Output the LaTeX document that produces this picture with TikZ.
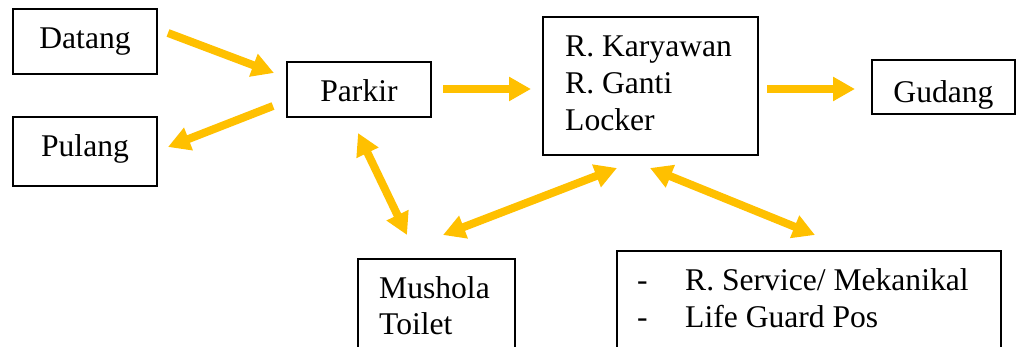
\documentclass[tikz,border=0pt]{standalone}
\usepackage{fontspec}
\setmainfont{Liberation Serif}
\usetikzlibrary{arrows.meta}
\definecolor{arrowgold}{HTML}{FFC000}
\tikzset{
  box/.style={draw=black, line width=1.5pt, rectangle, inner sep=0pt, fill=none},
  lbl/.style={inner sep=0pt, font=\fontsize{31.6}{37}\selectfont},
  flow/.style={draw=arrowgold, line width=8pt, -{Triangle[width=23pt,length=22pt]}},
  bflow/.style={draw=arrowgold, line width=8pt, {Triangle[width=23pt,length=22pt]}-{Triangle[width=23pt,length=22pt]}}
}
\begin{document}
\begin{tikzpicture}[x=1pt,y=-1pt]
\useasboundingbox (0,0) rectangle (1018,347);
\clip (0,0) rectangle (1018,347);
% boxes
\node[box, minimum width=144pt, minimum height=65pt] (datang) at (85,41.5) {};
\node[box, minimum width=144pt, minimum height=69pt] (pulang) at (85,151.5) {};
\node[box, minimum width=144pt, minimum height=55pt] (parkir) at (359,89.5) {};
\node[box, minimum width=215pt, minimum height=138pt] (karyawan) at (650.5,86) {};
\node[box, minimum width=143pt, minimum height=54pt] (gudang) at (943.5,87) {};
\node[box, minimum width=157pt, minimum height=121pt] (mushola) at (436.5,319.5) {};
\node[box, minimum width=384pt, minimum height=129pt] (service) at (809,315.5) {};
% texts
\node[lbl, anchor=base] (tdatang) at (85,49) {Datang};
\node[lbl, anchor=base] (tpulang) at (85,157) {Pulang};
\node[lbl, anchor=base] (tparkir) at (359,102) {Parkir};
\node[lbl, anchor=base] (tgudang) at (943.5,103) {Gudang};
\node[lbl, anchor=base west] (tk1) at (565,57) {R. Karyawan};
\node[lbl, anchor=base west] (tk2) at (565,94) {R. Ganti};
\node[lbl, anchor=base west] (tk3) at (565,131) {Locker};
\node[lbl, anchor=base west] (tm1) at (379,299) {Mushola};
\node[lbl, anchor=base west] (tm2) at (379,335) {Toilet};
\node[lbl, anchor=base west] (ts1d) at (637,291) {-};
\node[lbl, anchor=base west] (ts2d) at (637,328) {-};
\node[lbl, anchor=base west] (ts1) at (685,291) {R. Service/ Mekanikal};
\node[lbl, anchor=base west] (ts2) at (685,328) {Life Guard Pos};
% arrow end points
\coordinate (a1s) at (168,33);  \coordinate (a1e) at (274,73);
\coordinate (a2s) at (273,106); \coordinate (a2e) at (168,147);
\coordinate (a3s) at (358,133); \coordinate (a3e) at (407,235);
\coordinate (a4s) at (443,235); \coordinate (a4e) at (617,168);
\coordinate (a5s) at (650,168); \coordinate (a5e) at (815,235);
\coordinate (a6s) at (443,89);  \coordinate (a6e) at (531,89);
\coordinate (a7s) at (767,89);  \coordinate (a7e) at (855,89);
% arrows
\draw[flow] (a1s) -- (a1e);
\draw[flow] (a2s) -- (a2e);
\draw[bflow] (a3s) -- (a3e);
\draw[bflow] (a4s) -- (a4e);
\draw[bflow] (a5s) -- (a5e);
\draw[flow] (a6s) -- (a6e);
\draw[flow] (a7s) -- (a7e);
\end{tikzpicture}
\end{document}
